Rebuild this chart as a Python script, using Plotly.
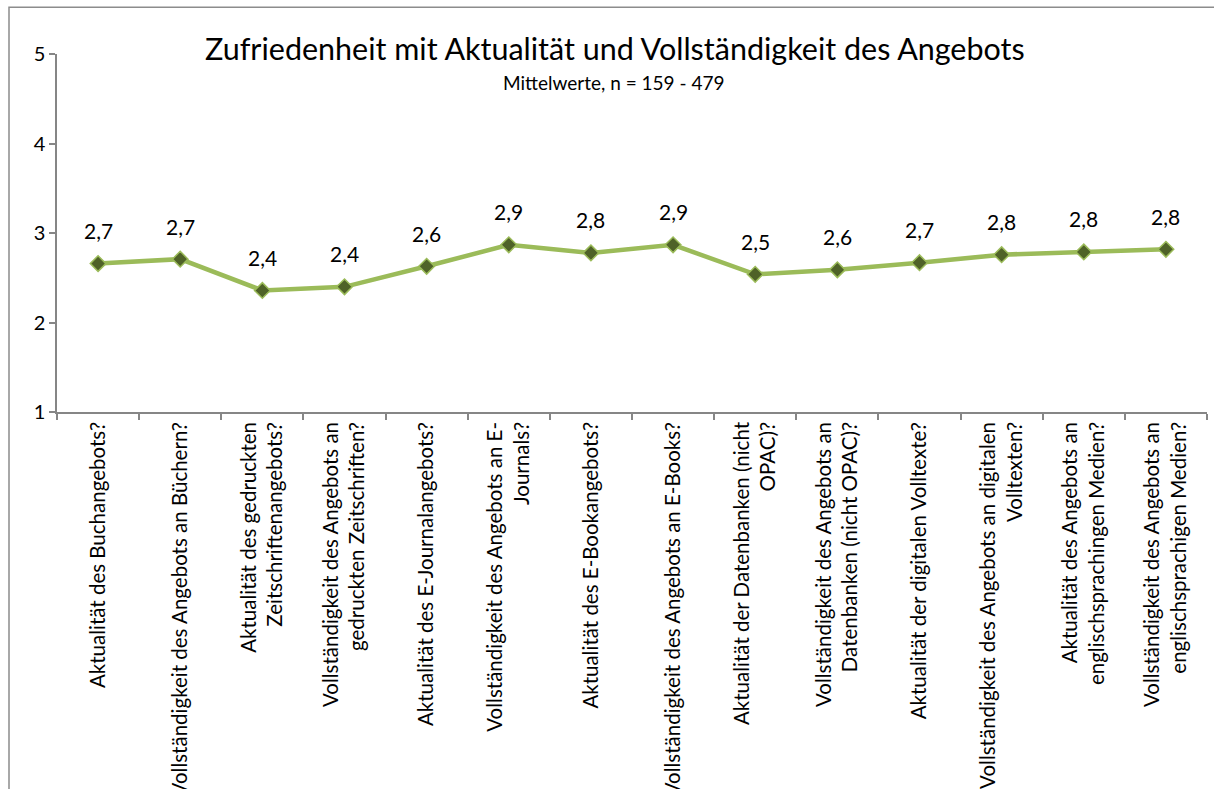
import plotly.graph_objects as go

# Kategorien (Fragen) und Mittelwerte
categories = [
    "Aktualität des Buchangebots?",
    "Vollständigkeit des Angebots an Büchern?",
    "Aktualität des gedruckten<br>Zeitschriftenangebots?",
    "Vollständigkeit des Angebots an<br>gedruckten Zeitschriften?",
    "Aktualität des E-Journalangebots?",
    "Vollständigkeit des Angebots an E-<br>Journals?",
    "Aktualität des E-Bookangebots?",
    "Vollständigkeit des Angebots an E-Books?",
    "Aktualität der Datenbanken (nicht<br>OPAC)?",
    "Vollständigkeit des Angebots an<br>Datenbanken (nicht OPAC)?",
    "Aktualität der digitalen Volltexte?",
    "Vollständigkeit des Angebots an digitalen<br>Volltexten?",
    "Aktualität des Angebots an<br>englischsprachingen Medien?",
    "Vollständigkeit des Angebots an<br>englischsprachigen Medien?",
]
means = [2.66, 2.71, 2.36, 2.40, 2.63, 2.87, 2.78, 2.87, 2.54, 2.59, 2.67, 2.76, 2.79, 2.82]
y_ticks = [1, 2, 3, 4, 5]

labels = [f"{v:.1f}".replace(".", ",") for v in means]

W, H = 1214, 789
font = "Lato"
axis_grey = "#868686"

fig = go.Figure()
fig.add_trace(go.Scatter(
    x=categories, y=means, mode="lines+markers",
    line=dict(color="#9BBB59", width=4.5),
    marker=dict(symbol="diamond", size=12, color="#4F6228",
                line=dict(color="#9BBB59", width=1.5)),
    hoverinfo="skip",
))

# Datenbeschriftungen über den Punkten
for c, v, t in zip(categories, means, labels):
    fig.add_annotation(x=c, y=v, text=t, showarrow=False, yshift=33,
                       font=dict(family=font, size=21, color="black"))

# Titel und Untertitel
fig.add_annotation(xref="paper", yref="paper", x=615 / W, y=1 - 48 / H,
                   text="Zufriedenheit mit Aktualität und Vollständigkeit des Angebots",
                   showarrow=False, xanchor="center", yanchor="middle",
                   font=dict(family=font, size=30.5, color="black"))
fig.add_annotation(xref="paper", yref="paper", x=613 / W, y=1 - 83 / H,
                   text="Mittelwerte, n = 159 - 479",
                   showarrow=False, xanchor="center", yanchor="middle",
                   font=dict(family=font, size=19, color="black"))

# Diagrammrahmen: nur linke und obere Kante liegen im Bild
bx, by = 9 / W, 1 - 7.3 / H
fig.add_shape(type="path", xref="paper", yref="paper",
              path=f"M {bx},-0.3 L {bx},{by} L 1.3,{by}",
              line=dict(color="#8c8c8c", width=1.5), layer="below")

fig.update_layout(
    width=W, height=H, margin=dict(l=0, r=0, t=0, b=0),
    showlegend=False, plot_bgcolor="white", paper_bgcolor="white",
    font=dict(family=font, color="black"),
)
fig.update_xaxes(
    type="category", domain=[57 / W, 1207 / W], range=[-0.5, len(categories) - 0.5],
    showgrid=False, zeroline=False, showline=True, linecolor=axis_grey, linewidth=1.5,
    ticks="outside", tickson="boundaries", ticklen=6, tickcolor=axis_grey, tickwidth=1.5,
    tickangle=-90, tickfont=dict(family=font, size=20.5, color="black"), automargin=False,
)
fig.update_yaxes(
    domain=[1 - 412 / H, 1 - 54.4 / H], range=[1, 5], tickvals=y_ticks,
    showgrid=False, zeroline=False, showline=True, linecolor=axis_grey, linewidth=1.5,
    ticks="outside", ticklen=6, tickcolor=axis_grey, tickwidth=1.5,
    tickfont=dict(family=font, size=20, color="black"), automargin=False,
)

fig.write_html("out.html", config={"displayModeBar": False},
               post_script="document.body.style.margin='0';document.body.style.overflow='hidden';")
